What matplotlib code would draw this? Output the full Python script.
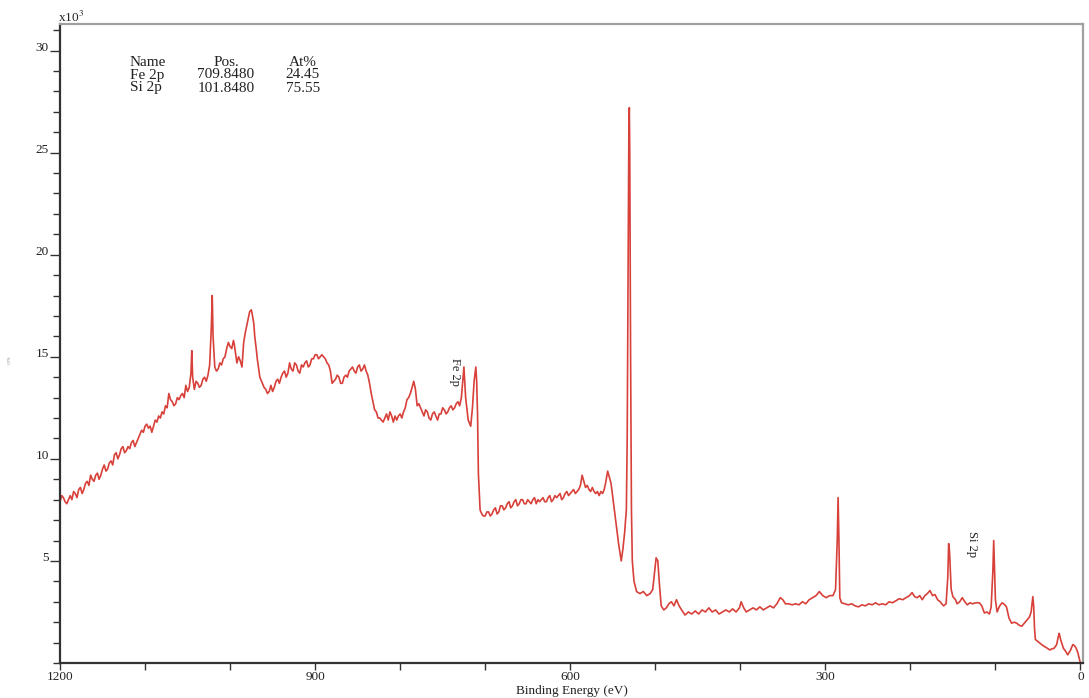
import matplotlib
matplotlib.use('Agg')
import numpy as np
from matplotlib import pyplot as plt
from matplotlib.ticker import MultipleLocator, FixedLocator

# XPS survey, split into regions: binding energy (eV) / intensity (x10^3 counts)

# high-energy background 1200 -> 1048 eV
be_high = list(range(1200, 1046, -2))
cps_high = [
    7.9, 8.2, 8.1, 7.9, 7.8, 8.0, 8.2, 8.0, 8.4, 8.3,
    8.1, 8.5, 8.6, 8.3, 8.5, 8.8, 8.9, 8.7, 9.2, 9.0,
    8.9, 9.2, 9.3, 9.0, 9.2, 9.5, 9.7, 9.4, 9.5, 9.8,
    9.9, 9.7, 10.2, 10.3, 10.0, 10.2, 10.5, 10.6, 10.3, 10.4,
    10.6, 10.5, 10.8, 10.9, 10.6, 10.8, 11.0, 11.2, 11.4, 11.3,
    11.6, 11.7, 11.5, 11.6, 11.3, 11.6, 11.9, 11.8, 12.1, 12.0,
    12.3, 12.2, 12.6, 12.5, 13.2, 12.9, 12.8, 12.6, 12.7, 13.0,
    12.9, 13.1, 13.2, 13.0, 13.6, 13.3, 13.5,
]

# Auger structure 1046 -> 960 eV
be_auger = [
    1046, 1045, 1044, 1042, 1040, 1038, 1036, 1034, 1032, 1030,
    1028, 1026, 1024, 1022, 1021, 1020, 1018, 1016, 1014, 1012,
    1010, 1008, 1006, 1004, 1002, 1000, 998, 996, 995, 993,
    992, 990, 988, 986, 984, 982, 980, 978, 977, 975,
    974, 972, 971, 969, 968, 966, 965, 963, 962, 960,
]
cps_auger = [
    14.2, 15.3, 14.0, 13.4, 13.8, 13.7, 13.5, 13.6, 13.9, 14.0,
    13.8, 14.1, 14.6, 16.5, 18.0, 16.0, 14.5, 14.3, 14.4, 14.7,
    14.6, 14.9, 15.0, 15.4, 15.7, 15.5, 15.4, 15.8, 15.6, 15.0,
    14.7, 15.0, 14.8, 14.5, 15.7, 16.2, 16.6, 17.0, 17.2, 17.3,
    17.1, 16.6, 16.0, 15.3, 14.9, 14.3, 14.0, 13.8, 13.7, 13.5,
]

# 958 -> 728 eV
be_mid = list(range(958, 727, -2))
cps_mid = [
    13.4, 13.2, 13.3, 13.6, 13.3, 13.5, 13.8, 13.9, 13.7, 14.0,
    14.2, 14.3, 14.0, 14.2, 14.7, 14.4, 14.3, 14.7, 14.6, 14.3,
    14.2, 14.6, 14.5, 14.7, 14.8, 14.5, 14.6, 14.9, 14.9, 15.1,
    15.1, 14.9, 15.0, 15.1, 15.0, 14.9, 14.7, 14.6, 14.3, 13.7,
    13.8, 13.9, 14.1, 14.0, 13.7, 13.7, 14.0, 14.1, 14.0, 14.3,
    14.4, 14.5, 14.3, 14.2, 14.5, 14.6, 14.3, 14.4, 14.6, 14.3,
    14.1, 13.7, 13.2, 12.8, 12.4, 12.3, 12.0, 12.0, 11.9, 11.8,
    12.0, 12.2, 11.9, 12.3, 12.1, 11.8, 12.1, 11.9, 12.1, 12.2,
    12.0, 12.3, 12.5, 12.9, 13.0, 13.2, 13.5, 13.8, 13.4, 12.6,
    12.7, 12.5, 12.3, 12.1, 12.4, 12.3, 12.0, 11.9, 12.2, 12.3,
    12.1, 11.9, 12.2, 12.2, 12.5, 12.4, 12.2, 12.3, 12.5, 12.6,
    12.4, 12.5, 12.7, 12.8, 12.6, 13.0,
]

# Fe 2p doublet and edge
be_fe = [726, 725, 723, 720, 717, 715, 713, 711, 710, 709, 708, 706, 704]
cps_fe = [14.0, 14.5, 13.0, 11.9, 11.6, 12.5, 13.8, 14.5, 13.8, 12.2, 9.3, 7.5, 7.3]

# plateau 702 -> 556 eV
be_plateau = list(range(702, 555, -2))
cps_plateau = [
    7.2, 7.2, 7.4, 7.4, 7.2, 7.3, 7.5, 7.6, 7.3, 7.4,
    7.7, 7.7, 7.5, 7.6, 7.8, 7.9, 7.6, 7.7, 7.9, 8.0,
    7.7, 7.8, 8.0, 8.0, 7.8, 7.8, 8.0, 7.9, 7.8, 8.0,
    8.1, 7.8, 8.0, 7.9, 8.0, 8.1, 7.9, 7.9, 8.1, 8.2,
    7.9, 8.0, 8.2, 8.1, 8.2, 8.3, 8.0, 8.1, 8.3, 8.4,
    8.2, 8.3, 8.4, 8.5, 8.3, 8.4, 8.5, 8.7, 9.2, 8.9,
    8.6, 8.7, 8.5, 8.4, 8.6, 8.4, 8.3, 8.4, 8.2, 8.4,
    8.3, 8.5, 8.9, 9.4,
]

# O 1s region
be_o1s = [
    552, 549, 546, 543, 540, 538, 536, 534, 533, 532,
    531, 530.5, 530, 529, 528, 527, 525, 522, 518, 514,
    510, 506, 503, 500, 499, 497, 495, 493,
]
cps_o1s = [
    8.8, 7.8, 6.8, 5.8, 5.0, 5.6, 6.4, 7.5, 11.0, 19.0,
    26.5, 27.2, 25.0, 15.0, 7.5, 5.0, 4.0, 3.5, 3.4, 3.5,
    3.3, 3.4, 3.6, 4.8, 5.15, 5.0, 3.8, 2.8,
]

# low background 490 -> 288 eV
be_low = [
    490, 487, 484, 481, 478, 475, 472, 469, 465, 461,
    457, 453, 449, 445, 441, 437, 433, 429, 425, 421,
    417, 413, 409, 405, 401, 399, 396, 393, 389, 385,
    381, 377, 373, 369, 365, 361, 357, 353, 350, 347,
    343, 339, 335, 331, 327, 323, 319, 315, 311, 307,
    303, 299, 295, 291, 288,
]
cps_low = [
    2.6, 2.7, 2.9, 3.0, 2.8, 3.1, 2.8, 2.6, 2.35, 2.5,
    2.4, 2.55, 2.4, 2.6, 2.5, 2.7, 2.5, 2.6, 2.4, 2.5,
    2.6, 2.5, 2.65, 2.5, 2.7, 3.0, 2.7, 2.5, 2.6, 2.7,
    2.6, 2.75, 2.6, 2.7, 2.8, 2.7, 2.9, 3.2, 3.1, 2.9,
    2.9, 2.85, 2.9, 2.85, 3.0, 2.9, 3.1, 3.2, 3.3, 3.5,
    3.3, 3.2, 3.3, 3.3, 3.6,
]

# C 1s, Si 2s, Si 2p, Fe 3p down to 0 eV
be_tail = [
    286, 285, 284, 283, 281, 277, 273, 269, 265, 261,
    257, 253, 249, 245, 241, 237, 233, 229, 225, 221,
    217, 213, 209, 205, 201, 198, 195, 192, 189, 186,
    183, 180, 177, 174, 171, 168, 165, 161, 158, 156,
    155, 154, 152, 150, 147, 145, 142, 139, 136, 133,
    130, 127, 123, 119, 116, 113, 110, 107, 105, 103,
    102, 101, 100, 98, 95, 92, 89, 87, 84, 81,
    78, 75, 72, 69, 66, 63, 60, 58, 56, 55,
    54, 53, 50, 48, 44, 40, 36, 33, 31, 28,
    26, 25, 23, 20, 17, 15, 12, 9, 7, 5,
    3, 1, 0,
]
cps_tail = [
    6.0, 8.1, 6.0, 3.2, 2.95, 2.9, 2.85, 2.9, 2.8, 2.75,
    2.85, 2.8, 2.9, 2.85, 2.95, 2.85, 2.9, 2.85, 3.0, 2.95,
    3.05, 3.15, 3.1, 3.2, 3.3, 3.45, 3.25, 3.2, 3.3, 3.1,
    3.3, 3.4, 3.55, 3.3, 3.35, 3.1, 3.0, 2.8, 2.9, 4.2,
    5.85, 5.5, 3.6, 3.25, 3.1, 2.9, 3.0, 3.2, 3.0, 2.85,
    2.95, 2.9, 2.95, 2.95, 2.8, 2.45, 2.5, 2.4, 2.75, 4.5,
    6.0, 4.5, 3.1, 2.5, 2.8, 2.95, 2.85, 2.75, 2.2, 1.95,
    2.0, 1.95, 1.85, 1.8, 1.95, 2.1, 2.25, 2.5, 3.25, 2.8,
    1.7, 1.15, 1.05, 0.98, 0.85, 0.75, 0.64, 0.7, 0.72, 0.9,
    1.3, 1.45, 1.1, 0.72, 0.55, 0.4, 0.6, 0.9, 0.85, 0.72,
    0.5, 0.15, 0.0,
]

# quantification table
peak_names = ['Fe 2p', 'Si 2p']
peak_pos = [709.8480, 101.8480]
peak_at = [24.45, 75.55]

regions = [
    (be_high, cps_high), (be_auger, cps_auger), (be_mid, cps_mid),
    (be_fe, cps_fe), (be_plateau, cps_plateau), (be_o1s, cps_o1s),
    (be_low, cps_low), (be_tail, cps_tail),
]
for e, c in regions:
    assert len(e) == len(c), (e[0], len(e), len(c))
be = np.concatenate([np.array(e, float) for e, _ in regions])
cps = np.concatenate([np.array(c, float) for _, c in regions])

plt.rcParams['font.family'] = ['Liberation Serif', 'DejaVu Serif']
plt.rcParams['mathtext.fontset'] = 'stix'

W, H = 1089, 698
fig = plt.figure(figsize=(W / 100, H / 100), dpi=100)
ax = fig.add_axes([60 / W, 35 / H, (1083 - 60) / W, (663 - 24) / H])

ax.plot(be, cps, color='#d8403a', lw=1.2)

ax.set_xlim(1200, -3)
ax.set_ylim(0, 31.3)

ax.xaxis.set_major_locator(FixedLocator([1200, 900, 600, 300, 0]))
ax.xaxis.set_minor_locator(MultipleLocator(100))
ax.yaxis.set_major_locator(FixedLocator([5, 10, 15, 20, 25, 30]))
ax.yaxis.set_minor_locator(MultipleLocator(1))

ax.tick_params(axis='both', which='both', direction='out', colors='#333333',
               labelcolor='#222222', labelsize=9.5, width=1.0)
ax.tick_params(axis='x', which='both', length=5, pad=1)
ax.tick_params(axis='y', which='major', length=7, pad=1)
ax.tick_params(axis='y', which='minor', length=5)
for lab in ax.get_yticklabels():
    lab.set_verticalalignment('baseline')

for side in ['left', 'bottom']:
    ax.spines[side].set_color('#333333')
    ax.spines[side].set_linewidth(1.6)
for side in ['top', 'right']:
    ax.spines[side].set_color('#a0a0a0')
    ax.spines[side].set_linewidth(1.6)

ax.set_xlabel('Binding Energy (eV)', fontsize=9.5, color='#222222', labelpad=1)
fig.text(10 / W, 1 - 360 / H, 'CPS', fontsize=3.5, color='#888888',
         rotation=90, ha='center', va='center')
fig.text(58 / W, 1 - 22 / H, r'x10$^{3}$', fontsize=9.5, color='#222222',
         va='baseline', ha='left')

# quantification table in the upper left corner, one text block per column
col_name = '\n'.join(['Name'] + peak_names)
col_pos = '\n'.join(['Pos.'] + [f'{p:.4f}' for p in peak_pos])
col_at = '\n'.join(['At%'] + [f'{a:.2f}' for a in peak_at])
tkw = dict(fontsize=11, va='center', color='#222222', linespacing=1.0)
fig.text(130 / W, 1 - 75 / H, col_name, ha='left', multialignment='left', **tkw)
fig.text(226 / W, 1 - 75 / H, col_pos, ha='center', multialignment='center', **tkw)
fig.text(303 / W, 1 - 75 / H, col_at, ha='center', multialignment='center', **tkw)

# peak labels, written downwards just left of each peak
for name, pos in zip(peak_names, peak_pos):
    near = (be > pos - 4) & (be < pos + 4)
    top = cps[near].max()
    ax.text(pos + 26, top + 0.45, name, rotation=-90, fontsize=9,
            ha='center', va='top', color='#222222')

fig.savefig('out.png', dpi=100)
